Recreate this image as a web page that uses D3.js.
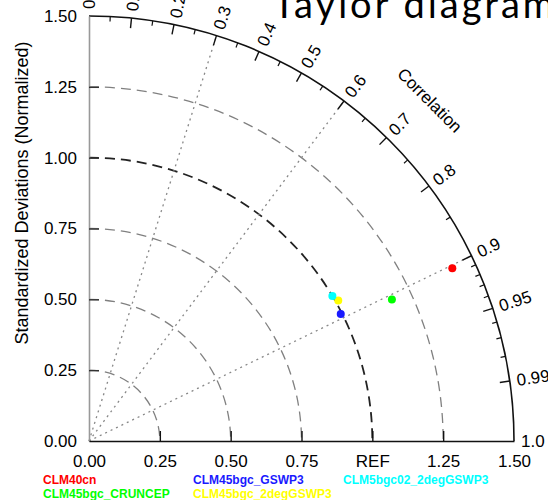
<!DOCTYPE html>
<html>
<head>
<meta charset="utf-8">
<script src="https://cdn.jsdelivr.net/npm/d3@7"></script>
<style>
  body { margin: 0; background: #fff; }
  text { font-family: "Liberation Sans", Arial, sans-serif; }
</style>
</head>
<body>
<div id="chart"></div>
<script>
// data
const models = ["CLM40cn", "CLM45bgc_CRUNCEP", "CLM45bgc_GSWP3", "CLM45bgc_2degGSWP3", "CLM5bgc02_2degGSWP3"];
const modelColors = ["#ff0000", "#00ff00", "#1a1aff", "#ffff00", "#00ffff"];
const stdNorm = [1.42, 1.18, 0.995, 1.01, 1.0];
const corrValues = [0.903, 0.906, 0.893, 0.871, 0.859];

const sdTicks = [0, 0.25, 0.5, 0.75, 1.0, 1.25, 1.5];
const sdArcs = [0.25, 0.5, 0.75, 1.25];
const corrMajor = [0.0, 0.1, 0.2, 0.3, 0.4, 0.5, 0.6, 0.7, 0.8, 0.9, 0.95, 0.99, 1.0];
const corrMinor = [0.05, 0.15, 0.25, 0.35, 0.45, 0.55, 0.65, 0.75, 0.85, 0.91, 0.92, 0.93, 0.94, 0.96, 0.97, 0.98];
const corrLines = [0.3, 0.6, 0.9];

const width = 548, height = 500;
const ox = 89, oy = 441, R = 425;

const svg = d3.select("#chart").append("svg")
    .attr("width", width)
    .attr("height", height);

const rScale = d3.scaleLinear().domain([0, 1.5]).range([0, R]);
const xScale = d3.scaleLinear().domain([0, 1.5]).range([ox, ox + R]);
const yScale = d3.scaleLinear().domain([0, 1.5]).range([oy, oy - R]);

// title (cut off at top and right like the source)
svg.append("text")
    .attr("x", 273)
    .attr("y", 18)
    .style("font-family", "Lato, 'Open Sans', sans-serif")
    .style("font-size", "38px")
    .style("letter-spacing", "3px")
    .text("Taylor diagram");

const g = svg.append("g").attr("transform", `translate(${ox},${oy})`);

function arcPath(r) {
    let p = d3.path();
    p.arc(0, 0, r, -Math.PI / 2, 0);
    return p.toString();
}

// std dev arcs
g.selectAll("path.sd")
    .data(sdArcs)
    .enter().append("path")
    .attr("class", "sd")
    .attr("d", d => arcPath(rScale(d)))
    .attr("fill", "none")
    .attr("stroke", "#808080")
    .attr("stroke-width", 1.3)
    .attr("stroke-dasharray", "10,6");

// reference arc
g.append("path")
    .attr("d", arcPath(rScale(1.0)))
    .attr("fill", "none")
    .attr("stroke", "#222")
    .attr("stroke-width", 1.8)
    .attr("stroke-dasharray", "10,6");

// correlation rays
g.selectAll("line.ray")
    .data(corrLines)
    .enter().append("line")
    .attr("class", "ray")
    .attr("x1", 0).attr("y1", 0)
    .attr("x2", d => R * d)
    .attr("y2", d => -R * Math.sin(Math.acos(d)))
    .attr("stroke", "#888")
    .attr("stroke-width", 1.3)
    .attr("stroke-dasharray", "2,4");

// outer arc
g.append("path")
    .attr("d", arcPath(R))
    .attr("fill", "none")
    .attr("stroke", "#111")
    .attr("stroke-width", 1.6);

// correlation ticks
function tick(c, len) {
    let a = Math.acos(c);
    return {x1: R * Math.cos(a), y1: -R * Math.sin(a), x2: (R - len) * Math.cos(a), y2: -(R - len) * Math.sin(a)};
}
function drawTicks(cls, values, len, sw) {
    g.selectAll("line." + cls)
        .data(values)
        .enter().append("line")
        .attr("class", cls)
        .attr("x1", c => tick(c, len).x1)
        .attr("y1", c => tick(c, len).y1)
        .attr("x2", c => tick(c, len).x2)
        .attr("y2", c => tick(c, len).y2)
        .attr("stroke", "#111")
        .attr("stroke-width", sw);
}
drawTicks("cmaj", corrMajor.filter(c => c > 0 && c < 1), 10, 1.4);
drawTicks("cmin", corrMinor, 5, 1.2);

// correlation labels
g.selectAll("text.clab")
    .data(corrMajor)
    .enter().append("text")
    .attr("class", "clab")
    .attr("transform", c => {
        let a = Math.acos(c);
        return `translate(${(R + 7) * Math.cos(a)},${-(R + 7) * Math.sin(a)}) rotate(${-a * 180 / Math.PI})`;
    })
    .attr("dy", "0.35em")
    .style("font-size", "17px")
    .text(c => c === 0 ? "0.0" : c === 1 ? "1.0" : String(c));

g.append("text")
    .attr("transform", `translate(${482 * Math.SQRT1_2},${-482 * Math.SQRT1_2}) rotate(45)`)
    .attr("text-anchor", "middle")
    .attr("dy", "0.35em")
    .style("font-size", "17px")
    .text("Correlation");

// axes
const yAxis = svg.append("g")
    .attr("transform", `translate(${ox},0)`)
    .call(d3.axisLeft(yScale).tickValues(sdTicks).tickFormat(d3.format(".2f")).tickSizeInner(-10).tickSizeOuter(0).tickPadding(12));
yAxis.select(".domain").attr("stroke", "#999").attr("stroke-width", 1.6);
yAxis.selectAll(".tick line").attr("stroke", "#333").attr("stroke-width", 1.4);
yAxis.selectAll(".tick text").style("font-size", "17px").attr("font-family", null);

const xAxis = svg.append("g")
    .attr("transform", `translate(0,${oy})`)
    .call(d3.axisBottom(xScale).tickValues(sdTicks).tickFormat(d => d === 1 ? "REF" : d3.format(".2f")(d)).tickSizeInner(-10).tickSizeOuter(0).tickPadding(14));
xAxis.select(".domain").attr("stroke", "#111").attr("stroke-width", 1.6);
xAxis.selectAll(".tick line").attr("stroke", "#111").attr("stroke-width", 1.4);
xAxis.selectAll(".tick text").style("font-size", "17px").attr("font-family", null);
// end ticks are covered by the frame
xAxis.selectAll(".tick").filter(d => d === 0 || d === 1.5).select("line").remove();
yAxis.selectAll(".tick").filter(d => d === 0 || d === 1.5).select("line").remove();

// y axis title
svg.append("text")
    .attr("transform", `translate(22,193) rotate(-90)`)
    .attr("text-anchor", "middle")
    .attr("dy", "0.35em")
    .style("font-size", "18px")
    .text("Standardized Deviations (Normalized)");

// points
const pts = models.map((m, i) => ({name: m, color: modelColors[i], sd: stdNorm[i], r: corrValues[i]}));
g.selectAll("circle.pt")
    .data(pts)
    .enter().append("circle")
    .attr("class", "pt")
    .attr("cx", d => rScale(d.sd) * d.r)
    .attr("cy", d => -rScale(d.sd) * Math.sin(Math.acos(d.r)))
    .attr("r", 4)
    .attr("fill", d => d.color);

// legend
const legend = svg.append("g");
legend.selectAll("text")
    .data(pts)
    .enter().append("text")
    .attr("x", (d, i) => 43 + Math.floor(i / 2) * 150)
    .attr("y", (d, i) => 480 + (i % 2) * 14)
    .attr("dy", "0.35em")
    .style("font-size", "12px")
    .style("font-weight", "bold")
    .attr("fill", d => d.color)
    .text(d => d.name);
</script>
</body>
</html>
